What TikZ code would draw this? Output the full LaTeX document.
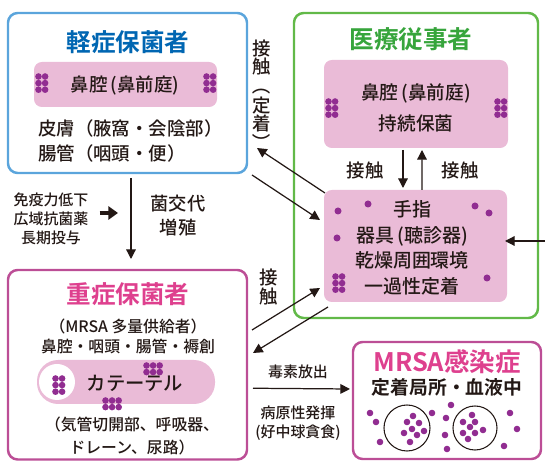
\documentclass[tikz,border=0pt]{standalone}
\usepackage{fontspec}
\setmainfont{Noto Sans CJK JP}[UprightFont={* Medium}, BoldFont={* Bold}]
\usetikzlibrary{arrows.meta,fit}

\definecolor{mildblue}{RGB}{91,165,220}
\definecolor{mildtitle}{RGB}{0,102,178}
\definecolor{staffgreen}{RGB}{98,185,72}
\definecolor{stafftitle}{RGB}{55,165,60}
\definecolor{severeframe}{RGB}{188,78,150}
\definecolor{severetitle}{RGB}{222,64,142}
\definecolor{pinkfill}{RGB}{234,187,215}
\definecolor{germcolor}{RGB}{145,45,145}
\definecolor{ink}{RGB}{35,24,21}

% a block of bacteria: x, y of the first dot, columns, rows
\newcommand{\germs}[4]{%
  \foreach \c in {1,...,#3}
    \foreach \r in {1,...,#4}
      \fill[germ] (#1+6.6*\c-6.6, #2+6.6*\r-6.6) circle (3.3);}
% bracket turned for vertical text
\newcommand{\vbra}[1]{\rotatebox[origin=c]{-90}{#1}}

\begin{document}
\begin{tikzpicture}[x=0.02cm, y=-0.02cm,
    panel/.style={draw, line width=1.4pt, rounded corners=5.5pt, inner sep=0pt, outer sep=0pt},
    spot/.style={fill=pinkfill, rounded corners=4.5pt, inner sep=0pt, outer sep=0pt},
    title/.style={font=\fontsize{14}{16}\selectfont\bfseries},
    body/.style={font=\fontsize{10.5}{14.2}\selectfont, text=ink, align=center},
    small/.style={font=\fontsize{8.5}{10.8}\selectfont, text=ink, align=center},
    germ/.style={fill=germcolor},
    link/.style={-{Triangle[length=5.5pt,width=5.5pt]}, line width=0.7pt, ink},
    push/.style={-{Triangle[length=5.5pt,width=7.5pt]}, line width=2.8pt, ink}]
  \useasboundingbox (0,0) rectangle (545,462);

  % frames of the four groups
  \node[panel, draw=mildblue, fit={(8,13) (247,173)}] (mild) {};
  \node[panel, draw=staffgreen, fit={(294,13) (538,318)}] (staff) {};
  \node[panel, draw=severeframe, fit={(8,270) (247,459.5)}] (severe) {};
  \node[panel, draw=severeframe, fit={(353,342) (541,459)}] (infect) {};

  % pink sites
  \node[spot, fit={(34,62) (217,107)}] (mildnose) {};
  \node[spot, fit={(324,60) (508,148)}] (staffnose) {};
  \node[spot, fit={(324,190) (507,302)}] (hands) {};
  \node[spot, rounded corners=12pt, fit={(37,360) (215,404)}] (catheter) {};
  \fill[white] (57,382) circle (18);

  % light carriers
  \node[title, text=mildtitle] (mildname) at (128,42) {軽症保菌者};
  \node[body] at (125,86) {鼻腔\,(鼻前庭)};
  \node[body, align=left, anchor=west] (mildsites) at (32,141) {皮膚（腋窩・会陰部）\\腸管（咽頭・便）};
  \germs{38.5}{76.5}{2}{3}
  \germs{206.5}{76.5}{2}{3}

  % staff
  \node[title, text=stafftitle] (staffname) at (411,39) {医療従事者};
  \node[body, font=\fontsize{10.6}{17.6}\selectfont] at (416,108) {鼻腔\,(鼻前庭)\\持続保菌};
  \germs{328.5}{101.5}{2}{3}
  \germs{497.5}{101.5}{2}{3}
  \node[body, font=\fontsize{10.8}{14.6}\selectfont] at (412,248) {手指\\器具\,(聴診器)\\乾燥周囲環境\\一過性定着};
  \germs{335.5}{276.5}{2}{3}
  \foreach \p in {(338,211),(368,204),(475,206),(489,213),(337,238),(487,278)}
    \fill[germ] \p circle (3.5);

  % heavy carriers
  \node[title, text=severetitle] (severename) at (128,294) {重症保菌者};
  \node[body, font=\fontsize{9}{11.3}\selectfont] at (128,336) {（MRSA 多量供給者）\\鼻腔・咽頭・腸管・褥創};
  \node[body, font=\fontsize{11}{13}\selectfont] at (135,383) {カテーテル};
  \germs{55.5}{378.5}{2}{3}
  \germs{146.5}{365.5}{3}{2}
  \germs{105.5}{400.5}{3}{2}
  \node[body, font=\fontsize{9}{13}\selectfont] at (132,436) {（気管切開部、呼吸器、\\ドレーン、尿路）};

  % infection
  \node[title, text=severetitle, font=\fontsize{14.5}{16}\selectfont\bfseries] (infectname) at (447,362) {MRSA感染症};
  \node[body, font=\fontsize{10.7}{13}\selectfont\bfseries] at (447,387) {定着局所・血液中};
  \draw[line width=0.6pt, ink] (407,428) circle (23);
  \draw[line width=0.6pt, ink] (475,428) circle (22);
  \foreach \p in {(413,416),(407,422),(419,423),(412,429),(424,431),(404,433),(417,435),(410,442),
                  (472,415),(463,422),(475,422),(470,427),(483,430),(463,433),(475,433),(468,439),
                  (370,413),(376,422),(380,442),(432,413),(451,405),(446,418),(445,435),(447,449),
                  (510,413),(517,429),(504,446)}
    \fill[germ] \p circle (3.3);

  % labels on the arrows
  \node[body, font=\fontsize{10.5}{10}\selectfont] at (262,96) {接\\触\\\vbra{（}\\定\\着\\\vbra{）}};
  \node[body, font=\fontsize{10.5}{10.8}\selectfont] at (269,287) {接\\触};
  \node[body] at (365,171) {接触};
  \node[body] at (460,171) {接触};
  \node[body, font=\fontsize{10.4}{13.6}\selectfont] at (178,216) {菌交代\\増殖};
  \node[small] (cause) at (51,219) {免疫力低下\\広域抗菌薬\\長期投与};
  \node[small] at (298,372) {毒素放出};
  \node[small] at (298,423) {病原性発揮\\(好中球貪食)};

  % arrows
  \coordinate (gate) at (118,213);
  \coordinate (outside) at (545,241);
  \draw[push] ([shift={(5,-6)}]cause.east) -- (gate);
  \draw[link] ([shift={(3.5,5)}]mild.south) -- ([shift={(3.5,-11)}]severe.north);
  \draw[link] ([shift={(-13,2)}]staffnose.south) -- ([shift={(-12.5,-2)}]hands.north);
  \draw[link] ([shift={(6.5,0)}]hands.north) -- ([shift={(6,2)}]staffnose.south);
  \draw[link] ([shift={(1,3)}]hands.north west) -- ([shift={(10,-25)}]mild.south east);
  \draw[link] ([shift={(5,2)}]mild.south east) -- ([shift={(-4,30)}]hands.north west);
  \draw[link] ([shift={(5,60)}]severe.north east) -- ([shift={(-4,-14)}]hands.south west);
  \draw[link] ([shift={(4,5)}]hands.south west) -- ([shift={(6,83)}]severe.north east);
  \draw[link] (outside) -- ([shift={(-2,-5)}]hands.east);
  \draw[link] ([shift={(6,23.5)}]severe.east) -- ([shift={(-3,-11.5)}]infect.west);
\end{tikzpicture}
\end{document}
